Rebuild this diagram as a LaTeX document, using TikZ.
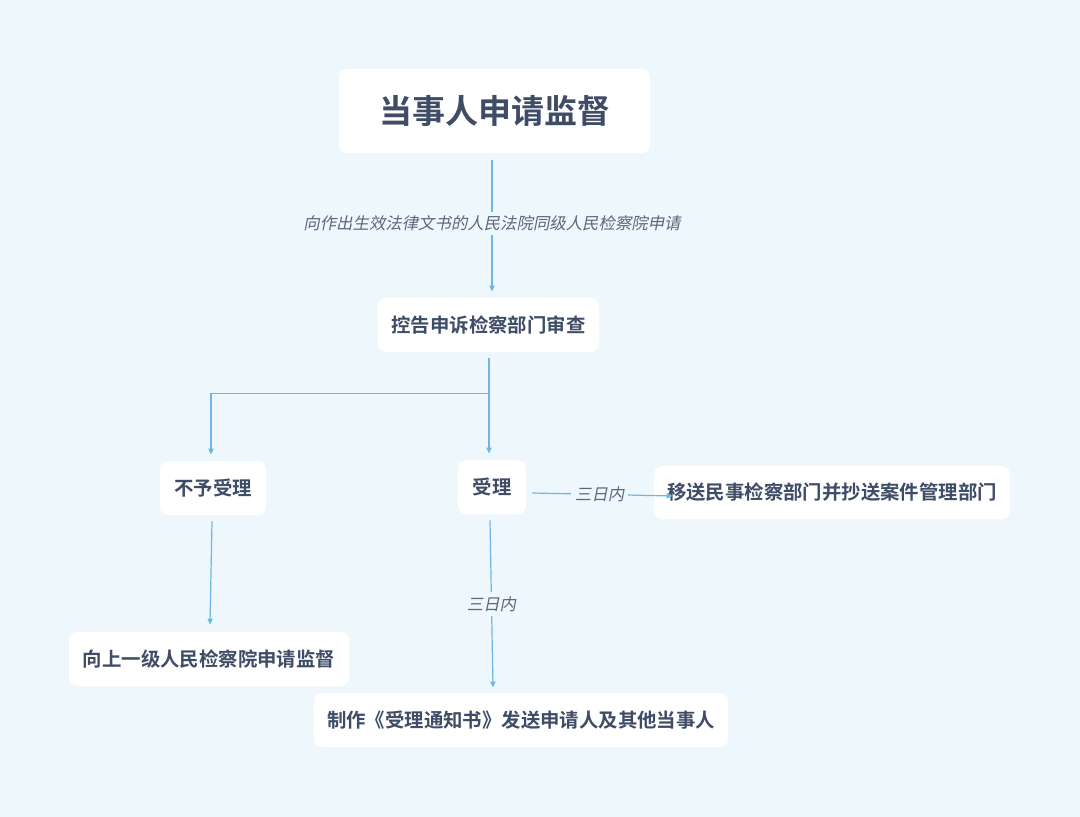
\documentclass[tikz,border=0pt]{standalone}
\usepackage{fontspec}
\usetikzlibrary{arrows.meta,calc}
\newfontfamily\cjkb[BoldFont={Noto Sans CJK SC Bold}]{Noto Sans CJK SC}
\newfontfamily\cjkit[FakeSlant=0.2]{Noto Sans CJK SC}
\definecolor{bgc}{HTML}{EEF7FB}
\definecolor{txtc}{HTML}{3E4C66}
\definecolor{lblc}{HTML}{5C677A}
\definecolor{linec}{HTML}{6DB6E6}
\tikzset{
  box/.style={fill=white, rounded corners=4pt, inner sep=0pt, text=txtc,
    font=\cjkb\bfseries\fontsize{9.7pt}{12pt}\selectfont},
  arr/.style={draw=linec, line width=0.6pt, -{Triangle[length=3pt,width=2.6pt]}},
  ln/.style={draw=linec, line width=0.6pt},
  lbl/.style={fill=bgc, text=lblc, inner sep=2pt,
    font=\cjkit\fontsize{8.2pt}{10pt}\selectfont}
}
\begin{document}
\begin{tikzpicture}[x=0.5pt,y=-0.5pt]
\fill[bgc] (0,0) rectangle (1080,817);
\useasboundingbox (0,0) rectangle (1080,817);
\node[box, minimum width=155.5pt, minimum height=42pt,
  font=\cjkb\bfseries\fontsize{16.5pt}{19pt}\selectfont] (top) at (494.5,111) {当事人申请监督};
\node[box, minimum width=110.5pt, minimum height=27pt] (rev) at (488.5,325) {控告申诉检察部门审查};
\node[box, minimum width=53pt, minimum height=27pt] (rej) at (213,488) {不予受理};
\node[box, minimum width=34pt, minimum height=27pt] (acc) at (492,487) {受理};
\node[box, minimum width=178pt, minimum height=26.5pt] (mv) at (832,492.5) {移送民事检察部门并抄送案件管理部门};
\node[box, minimum width=140pt, minimum height=27pt] (up) at (209,659) {向上一级人民检察院申请监督};
\node[box, minimum width=207pt, minimum height=27pt] (mk) at (521,720) {制作《受理通知书》发送申请人及其他当事人};
% top -> review
\draw[arr] ([xshift=-1.25pt,yshift=-3.5pt]top.south) -- node[lbl, pos=0.48] {向作出生效法律文书的人民法院同级人民检察院申请} ([xshift=1.75pt,yshift=3pt]rev.north);
% review -> branches
\coordinate (br) at ($(rev.south)+(0.5,41)$);
\draw[ln] ([xshift=0.25pt,yshift=-3pt]rev.south) -- (br);
\draw[arr] (br) -| ([xshift=-1pt,yshift=3pt]rej.north);
\draw[arr] (br) -- ([xshift=-1.5pt,yshift=3pt]acc.north);
% accept -> transfer
\draw[arr] ([xshift=3pt,yshift=-3pt]acc.east) -- node[lbl, pos=0.48] {三日内} ([xshift=9.5pt,yshift=-1.75pt]mv.west);
% reject -> up
\draw[arr] ([xshift=-0.5pt,yshift=-3pt]rej.south) -- ([xshift=0.5pt,yshift=3.5pt]up.north);
% accept -> make
\draw[arr] ([xshift=-1pt,yshift=-3pt]acc.south) -- node[lbl, pos=0.5] {三日内} ([xshift=-14pt,yshift=2.5pt]mk.north);
\end{tikzpicture}
\end{document}
